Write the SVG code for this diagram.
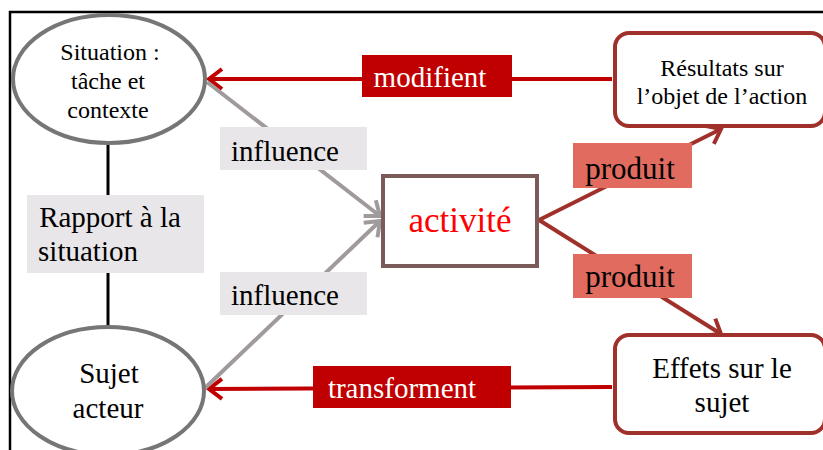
<svg xmlns="http://www.w3.org/2000/svg" width="823" height="450" viewBox="0 0 823 450">
<style>
text{font-family:"Liberation Serif","Times New Roman",serif;text-anchor:middle}
.sm{font-size:24px;fill:#000}
.lg{font-size:29px;fill:#000}
.wt{font-size:29px;fill:#fff}
.ell{fill:#fff;stroke:#767676;stroke-width:4}
.rbox{fill:#fff;stroke:#a0302a;stroke-width:4}
.gray{fill:#e8e6e8}
.dred{fill:#c00000}
.salm{fill:#e06b5e}
</style>
<defs>
<marker id="ar" markerUnits="userSpaceOnUse" markerWidth="20" markerHeight="24" refX="15" refY="12" orient="auto" viewBox="0 0 20 24">
<path d="M2,2 L15,12 L2,22" fill="none" stroke="#c00000" stroke-width="4"/>
</marker>
<marker id="ag" markerUnits="userSpaceOnUse" markerWidth="20" markerHeight="24" refX="15" refY="12" orient="auto" viewBox="0 0 20 24">
<path d="M2,2 L15,12 L2,22" fill="none" stroke="#a09a9c" stroke-width="4"/>
</marker>
<marker id="ab" markerUnits="userSpaceOnUse" markerWidth="20" markerHeight="24" refX="15" refY="12" orient="auto" viewBox="0 0 20 24">
<path d="M2,2 L15,12 L2,22" fill="none" stroke="#a0302a" stroke-width="4"/>
</marker>
</defs>
<rect width="823" height="450" fill="#fff"/>
<path d="M10,450 L10,12 L823,12" fill="none" stroke="#000" stroke-width="2.5"/>
<g id="connectors">
<line x1="108" y1="143" x2="108" y2="326" stroke="#000" stroke-width="3"/>
<line x1="612" y1="79" x2="209" y2="79" stroke="#c00000" stroke-width="4" marker-end="url(#ar)"/>
<line x1="612" y1="387" x2="209" y2="389" stroke="#c00000" stroke-width="4" marker-end="url(#ar)"/>
<line x1="207" y1="82" x2="380" y2="216" stroke="#a09a9c" stroke-width="4" marker-end="url(#ag)"/>
<line x1="205" y1="388" x2="380" y2="221" stroke="#a09a9c" stroke-width="4" marker-end="url(#ag)"/>
<line x1="539" y1="220" x2="721" y2="129" stroke="#a0302a" stroke-width="4" marker-end="url(#ab)"/>
<line x1="539" y1="220" x2="721" y2="334" stroke="#a0302a" stroke-width="4" marker-end="url(#ab)"/>
</g>
<g id="lbl-rapport">
<rect class="gray" x="27" y="195" width="177" height="78"/>
<text class="lg" x="110" y="227">Rapport à la</text>
<text class="lg" x="88" y="261">situation</text>
</g>
<g id="lbl-modifient">
<rect class="dred" x="362" y="55" width="150" height="42"/>
<text class="wt" x="430" y="87">modifient</text>
</g>
<g id="lbl-transforment">
<rect class="dred" x="313" y="366" width="198" height="42"/>
<text class="wt" x="402" y="398">transforment</text>
</g>
<g id="lbl-influence1">
<rect class="gray" x="220" y="127" width="147" height="43"/>
<text class="lg" x="285" y="161">influence</text>
</g>
<g id="lbl-influence2">
<rect class="gray" x="220" y="272" width="147" height="43"/>
<text class="lg" x="285" y="305">influence</text>
</g>
<g id="lbl-produit1">
<rect class="salm" x="573" y="143" width="119" height="45"/>
<text class="lg" x="630" y="179" style="font-size:31px">produit</text>
</g>
<g id="lbl-produit2">
<rect class="salm" x="573" y="254" width="119" height="44"/>
<text class="lg" x="630" y="287" style="font-size:31px">produit</text>
</g>
<g id="node-situation">
<ellipse class="ell" cx="109" cy="79" rx="96" ry="64"/>
<text class="sm" x="110" y="60">Situation :</text>
<text class="sm" x="108" y="89">tâche et</text>
<text class="sm" x="108" y="118">contexte</text>
</g>
<g id="node-sujet">
<ellipse class="ell" cx="108" cy="391" rx="96" ry="64"/>
<text class="lg" x="109" y="383">Sujet</text>
<text class="lg" x="108" y="418">acteur</text>
</g>
<g id="node-activite">
<rect x="383" y="176" width="154" height="90" fill="#fff" stroke="#7b5a5a" stroke-width="4"/>
<text x="460" y="232" style="font-size:35px;fill:#ff0000">activité</text>
</g>
<g id="node-resultats">
<rect class="rbox" x="615" y="33" width="210" height="93" rx="14"/>
<text class="sm" x="722" y="76">Résultats sur</text>
<text class="sm" x="722" y="104">l’objet de l’action</text>
</g>
<g id="node-effets">
<rect class="rbox" x="615" y="335" width="210" height="98" rx="14"/>
<text class="lg" x="722" y="378">Effets sur le</text>
<text class="lg" x="722" y="412">sujet</text>
</g>
</svg>
